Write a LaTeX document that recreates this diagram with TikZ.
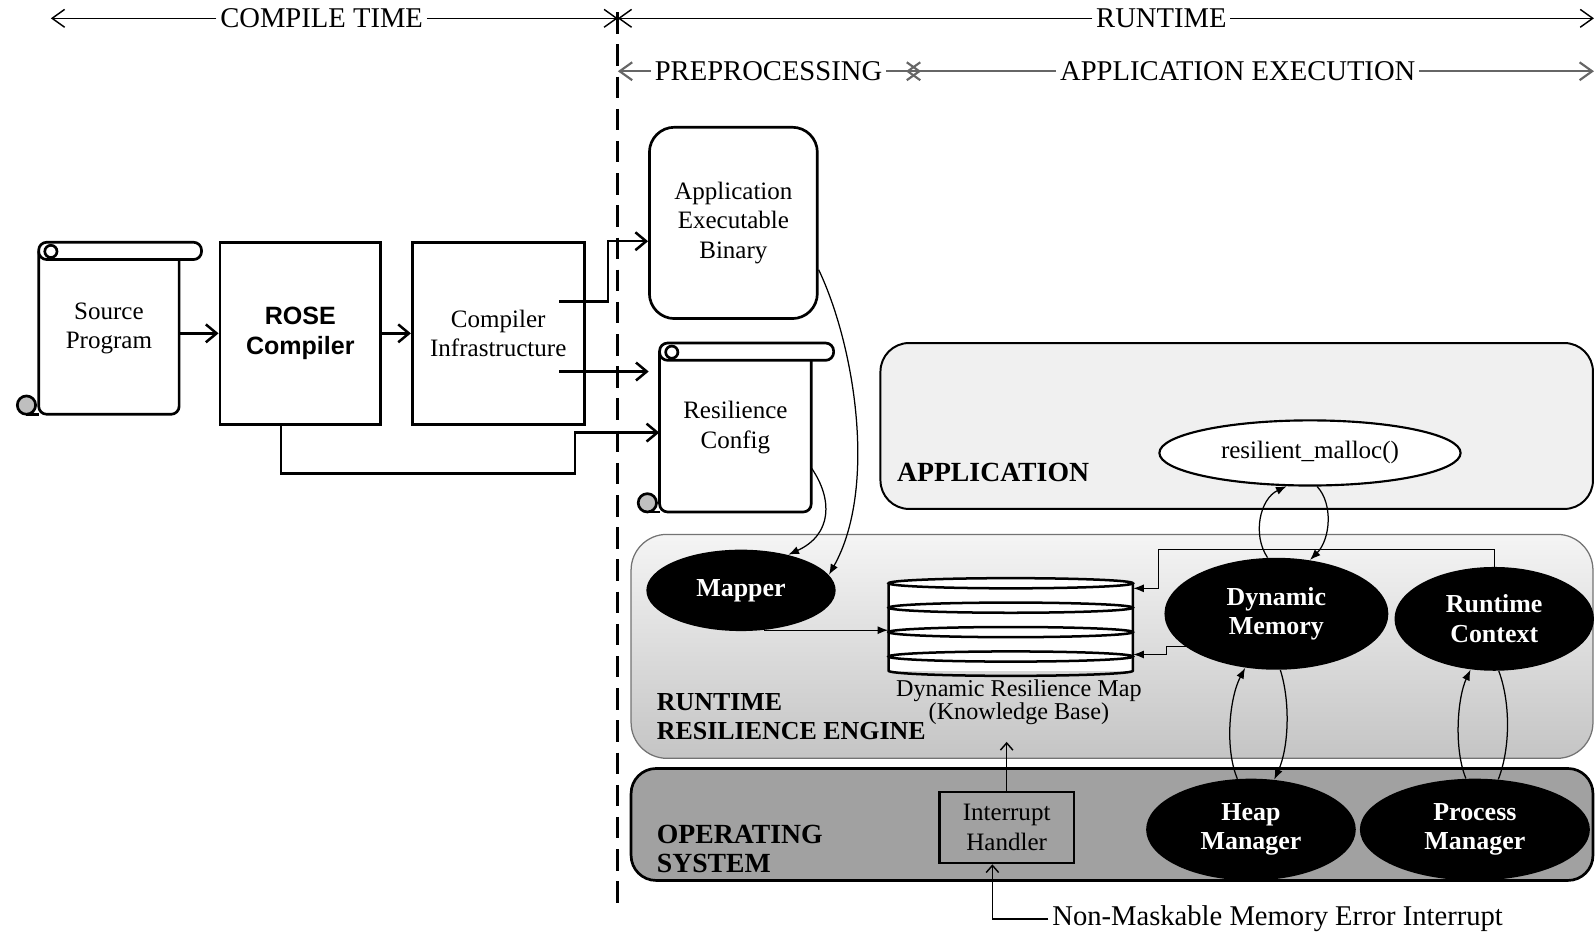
\documentclass[tikz,border=0pt]{standalone}
\usepackage{fontspec}
\setmainfont{Liberation Serif}
\newfontfamily\rosefont{Liberation Sans}
\usetikzlibrary{arrows.meta,shapes.geometric,calc,positioning}

\tikzset{
  frame/.style={draw=black,line width=1.5pt},
  flow/.style={line width=1.4pt,-{Straight Barb[length=6pt,width=10pt]}},
  timeline/.style={line width=0.8pt,-{Straight Barb[length=7pt,width=10pt]}},
  link/.style={line width=0.7pt,-{Latex[length=6pt,width=4.5pt]}},
  blob/.style={ellipse,fill=black,text=white,inner sep=0pt,align=center,
    font=\bfseries\fontsize{14.5}{16.5}\selectfont},
  boxtext/.style={align=center,font=\fontsize{14}{16.5}\selectfont},
  layer/.style={anchor=west,align=left,inner sep=0pt,
    font=\bfseries\fontsize{15.5}{16}\selectfont},
  phase/.style={inner sep=2pt,font=\fontsize{16}{18}\selectfont},
}

% scroll: #1,#2 top left of the roll, #3 right side of the body, #4 bottom
\newcommand{\scrollbox}[4]{%
  \draw[frame,rounded corners=4.5pt] (#1,#2+9) -- (#1,#4) -- (#3,#4) -- (#3,#2+17);
  \draw[frame,fill=white,rounded corners=4.5pt] (#1,#2) rectangle (#3+22,#2+17);
  \draw[frame,fill=white] (#1+12,#2+9) circle[radius=6];
  \draw[frame] (#1-12,#4) -- (#1,#4);
  \draw[frame,fill=black!25] (#1-12,#4-9) circle[radius=9];
}

\begin{document}
\begin{tikzpicture}[x=0.02cm,y=-0.02cm]
\useasboundingbox (0,0) rectangle (1568,916);

%the time lines
    \coordinate (divtop) at (607,12);
    \coordinate (divbot) at (607,897);
    \node[phase] (ct) at (316,18) {COMPILE TIME};
    \node[phase] (rt) at (1141,18) {RUNTIME};
    \node[phase] (pp) at (755,70) {PREPROCESSING};
    \node[phase] (ae) at (1216,70) {APPLICATION EXECUTION};
    \draw[timeline] (ct.west) -- (50,18);
    \draw[timeline] (ct.east) -- (divtop |- ct);
    \draw[timeline] (rt.west) -- (divtop |- rt);
    \draw[timeline] (rt.east) -- (1566,18);
    \begin{scope}[every path/.style={timeline,draw=black!60,line width=1.2pt}]
       \draw (pp.west) -- (divtop |- pp);
       \draw (pp.east) -- (905,70);
       \draw (ae.west) -- (890,70);
       \draw (ae.east) -- (1566,70);
    \end{scope}
    \draw[line width=1.6pt,dash pattern=on 12pt off 6pt] (divtop) -- (divbot);

%the layers
    \draw[line width=1.1pt,fill=black!6,rounded corners=16pt] (865,337) rectangle (1565,500);
    \draw[draw=black!55,line width=0.7pt,top color=black!4,bottom color=black!23,
      rounded corners=20pt] (620,525) rectangle (1565,745);
    \draw[line width=1.5pt,fill=black!37,rounded corners=14pt] (620,755) rectangle (1565,865);
    \node[layer] (applbl) at (881,464) {APPLICATION};
    \node[layer,font=\bfseries\fontsize{14.5}{16}\selectfont] (englbl) at (645,704)
      {RUNTIME\\RESILIENCE ENGINE};
    \node[layer] (oslbl) at (645,834) {OPERATING\\SYSTEM};

%compile time
    \scrollbox{38}{238}{176}{407}
    \node[boxtext,minimum width=2.76cm,minimum height=3.38cm] (src) at (107,322.5) {Source\\Program};
    \node[frame,boxtext,minimum width=3.16cm,minimum height=3.58cm,
      font=\rosefont\bfseries\fontsize{14}{16.5}\selectfont] (rose) at (295,327.5) {ROSE\\Compiler};
    \node[frame,boxtext,minimum width=3.38cm,minimum height=3.58cm] (cinf) at (489.5,327.5)
      {Compiler\\Infrastructure};

%preprocessing
    \node[frame,boxtext,rounded corners=14pt,minimum width=3.3cm,minimum height=3.76cm]
      (binary) at (720.5,219) {Application\\Executable\\Binary};
    \scrollbox{648}{337}{797}{503}
    \node[boxtext,minimum width=2.98cm,minimum height=3.32cm] (config) at (722.5,420)
      {Resilience\\Config};

%the compile arrows
    \draw[flow] (rose.west -| src.east) -- (rose.west);
    \draw[flow] (rose.east) -- (cinf.west);
    \draw[flow] ($(cinf.east)+(-26,-31.5)$) -- ++(48,0) |- ($(binary.west)+(0,18)$);
    \draw[flow] ($(cinf.east)+(-26,37.5)$) -- ++(88,0);
    \draw[flow] ($(rose.south)+(-19,0)$) |- (565,465) |- ($(config.west)+(0,5)$);

%application
    \node[draw,line width=1.2pt,ellipse,fill=white,minimum width=5.92cm,minimum height=1.28cm,
      font=\fontsize{14}{16}\selectfont] (malloc) at (1287,445) {resilient\_malloc()};

%runtime resilience engine
    \node[blob,minimum width=3.72cm,minimum height=1.6cm] (mapper) at (728,580) {Mapper};
    \node[blob,minimum width=4.4cm,minimum height=2.2cm] (dm) at (1254,603) {Dynamic\\Memory};
    \node[blob,minimum width=3.92cm,minimum height=2.04cm] (rc) at (1468,608) {Runtime\\Context};
    \node[minimum width=4.8cm,minimum height=1.92cm] (kb) at (993,616) {};
    \fill[white] (873,573) rectangle (1113,659);
    \draw[line width=1.4pt] (873,573) -- (873,659) arc[start angle=180,end angle=0,
      x radius=120,y radius=5] -- (1113,573);
    \foreach \ly in {573,597,621,645}
      \draw[line width=1.4pt,fill=white] (993,\ly) ellipse[x radius=120,y radius=5];
    \node[font=\fontsize{13.5}{12.5}\selectfont,align=center,inner sep=0pt] (kblabel)
      at (1001,690) {Dynamic Resilience Map\\(Knowledge Base)};

%operating system
    \node[draw,line width=1.3pt,fill=black!37,boxtext,minimum width=2.64cm,minimum height=1.4cm]
      (ih) at (989,813) {Interrupt\\Handler};
    \node[blob,minimum width=4.12cm,minimum height=2cm] (heap) at (1229,815) {Heap\\Manager};
    \node[blob,minimum width=4.52cm,minimum height=2cm] (pm) at (1449,815) {Process\\Manager};
    \node[phase,anchor=west] (nmi) at (1030,903) {Non-Maskable Memory Error Interrupt};

%the runtime links
    \draw[link] ($(binary.east)+(0,46)$) .. controls (840,340) and (862,480) .. (mapper.10);
    \draw[link] ($(config.east)+(0,40)$) .. controls (818,490) and (818,525) .. (mapper.37);
    \draw[link] (mapper.-60) -- (kb.west |- mapper.-60);
    \draw[link] (rc.north) |- (1138,540) |- ($(kb.east)+(0,-38)$);
    \draw[link] (dm.200) -- ++(-19,0) |- ($(kb.east)+(0,27)$);
    \draw[link] (dm.99) .. controls (1230,525) and (1238,490) .. (malloc.235);
    \draw[link] (malloc.282) .. controls (1310,495) and (1307,530) .. (dm.58);
    \draw[link] (heap.105) .. controls (1203,735) and (1208,685) .. (dm.240);
    \draw[link] (dm.-86) .. controls (1268,690) and (1266,735) .. (heap.65);
    \draw[link] (pm.100) .. controls (1428,735) and (1432,685) .. (rc.245);
    \draw[line width=0.7pt] (rc.-85) .. controls (1484,690) and (1484,735) .. (pm.65);
    \draw[line width=0.8pt,-{Straight Barb[length=4pt,width=7pt]}] (ih.north) -- ++(0,-48);
    \draw[line width=0.8pt,-{Straight Barb[length=4pt,width=7pt]}] (nmi.west) -| ($(ih.south)+(-14,0)$);
\end{tikzpicture}
\end{document}
